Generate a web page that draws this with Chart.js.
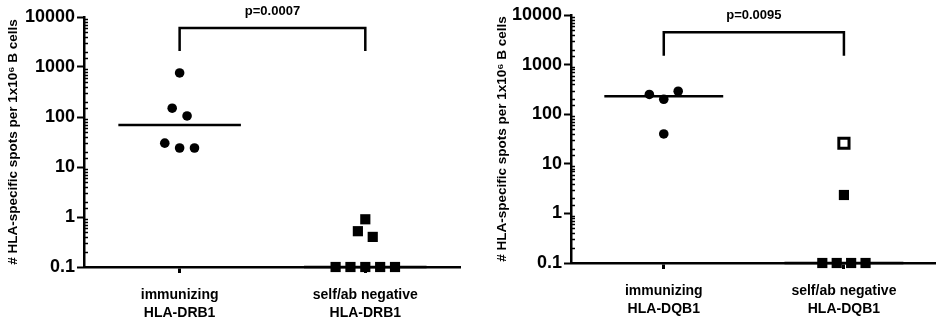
<!DOCTYPE html>
<html>
<head>
<meta charset="utf-8">
<script src="https://cdn.jsdelivr.net/npm/chart.js@4/dist/chart.umd.min.js"></script>
<style>
  body { margin: 0; background: #fff; }
  .panel { position: absolute; top: 0; height: 322px; }
</style>
</head>
<body>
<div class="panel" style="left:0;width:480px"><canvas id="drb1Chart"></canvas></div>
<div class="panel" style="left:480px;width:466px"><canvas id="dqb1Chart"></canvas></div>
<script>
// ---- data ----
const drb1Categories = [['immunizing', 'HLA-DRB1'], ['self/ab negative', 'HLA-DRB1']];
const dqb1Categories = [['immunizing', 'HLA-DQB1'], ['self/ab negative', 'HLA-DQB1']];
const yTickLabels = [0.1, 1, 10, 100, 1000, 10000];
const yTitle = '# HLA-specific spots per 1x10\u2076 B cells';

const drb1Immunizing = [760, 150, 105, 30, 24, 24];
const drb1ImmunizingJitter = [0, -0.04, 0.04, -0.08, 0, 0.08];
const drb1Negative = [0.9, 0.52, 0.4, 0.1, 0.1, 0.1, 0.1, 0.1];
const drb1NegativeJitter = [0, -0.04, 0.04, -0.16, -0.08, 0, 0.08, 0.16];
const drb1Medians = [69, 0.1];
const drb1PValue = 'p=0.0007';
const drb1Bracket = [2100, 6000];

const dqb1Immunizing = [250, 200, 290, 40];
const dqb1ImmunizingJitter = [-0.08, 0, 0.08, 0];
const dqb1Negative = [26, 2.35, 0.1, 0.1, 0.1, 0.1];
const dqb1NegativeJitter = [0, 0, -0.12, -0.04, 0.04, 0.12];
const dqb1NegativeOpen = [true, false, false, false, false, false];
const dqb1Medians = [230, 0.1];
const dqb1PValue = 'p=0.0095';
const dqb1Bracket = [1500, 4500];

const FONT = "'Liberation Sans', Arial, sans-serif";

function column(values, jitter, cat) {
  return values.map((v, i) => ({ x: cat + jitter[i], y: v }));
}

// minor log ticks drawn inward + significance bracket
const extrasPlugin = {
  id: 'extras',
  afterDraw(chart) {
    const ctx = chart.ctx;
    const y = chart.scales.y;
    const x = chart.scales.x;
    const o = chart.options.plugins.extras;
    ctx.save();
    ctx.strokeStyle = '#000';
    ctx.lineWidth = 1.5;
    y.ticks.forEach(t => {
      const lg = Math.log10(t.value);
      if (Math.abs(lg - Math.round(lg)) < 1e-6) return;
      const py = Math.round(y.getPixelForValue(t.value)) + 0.5;
      ctx.beginPath();
      ctx.moveTo(y.right, py);
      ctx.lineTo(y.right + 4, py);
      ctx.stroke();
    });
    // bracket
    const x1 = x.getPixelForValue(1), x2 = x.getPixelForValue(2);
    const yTop = y.getPixelForValue(o.bracket[1]);
    const yBot = y.getPixelForValue(o.bracket[0]);
    ctx.lineWidth = 2.5;
    ctx.beginPath();
    ctx.moveTo(x1, yBot);
    ctx.lineTo(x1, yTop);
    ctx.lineTo(x2, yTop);
    ctx.lineTo(x2, yBot);
    ctx.stroke();
    ctx.fillStyle = '#000';
    ctx.font = 'bold 13px ' + FONT;
    ctx.textAlign = 'center';
    ctx.textBaseline = 'middle';
    ctx.fillText(o.pValue, (x1 + x2) / 2, yTop - 17);
    ctx.restore();
  }
};

function makeChart(id, cfg) {
  const datasets = [];
  cfg.medians.forEach((m, i) => {
    datasets.push({
      type: 'line',
      data: [{ x: i + 1 - 0.33, y: m }, { x: i + 1 + 0.33, y: m }],
      borderColor: '#000',
      borderWidth: 2.5,
      pointRadius: 0,
      clip: false
    });
  });
  datasets.push(
    {
      type: 'scatter',
      data: column(cfg.immunizing, cfg.immunizingJitter, 1),
      pointStyle: 'circle',
      pointRadius: 4.8,
      backgroundColor: '#000',
      borderColor: '#000',
      borderWidth: 0,
      clip: false
    },
    {
      type: 'scatter',
      data: column(cfg.negative, cfg.negativeJitter, 2),
      pointStyle: 'rect',
      pointRadius: 7.2,
      backgroundColor: cfg.negative.map((v, i) => cfg.open && cfg.open[i] ? '#fff' : '#000'),
      borderColor: '#000',
      pointBorderWidth: cfg.negative.map((v, i) => cfg.open && cfg.open[i] ? 3 : 0),
      clip: false
    }
  );

  return new Chart(document.getElementById(id), {
    type: 'scatter',
    data: { datasets },
    plugins: [extrasPlugin],
    options: {
      responsive: true,
      maintainAspectRatio: false,
      animation: false,
      events: [],
      layout: { padding: { top: cfg.top, right: cfg.right, left: 0, bottom: 0 } },
      plugins: {
        legend: { display: false },
        tooltip: { enabled: false },
        extras: { bracket: cfg.bracket, pValue: cfg.pValue }
      },
      scales: {
        x: {
          type: 'linear',
          min: 0.485,
          max: 2.51,
          afterBuildTicks: s => { s.ticks = [{ value: 1 }, { value: 2 }]; },
          afterFit: s => { s.height = cfg.xHeight; },
          border: { color: '#000', width: 2.5 },
          grid: { drawOnChartArea: false, tickLength: 6, tickColor: '#000', tickWidth: 3 },
          ticks: {
            padding: 13,
            color: '#000',
            maxRotation: 0,
            font: { family: FONT, size: 14, weight: 'bold', lineHeight: 1.3 },
            callback: v => cfg.categories[v - 1]
          }
        },
        y: {
          type: 'logarithmic',
          min: 0.1,
          max: 10000,
          afterFit: s => { s.width = cfg.yWidth; },
          border: { color: '#000', width: 2.5 },
          grid: {
            drawOnChartArea: false,
            tickLength: 7,
            tickWidth: 2,
            tickColor: c => {
              const lg = Math.log10(c.tick.value);
              return Math.abs(lg - Math.round(lg)) < 1e-6 ? '#000' : 'rgba(0,0,0,0)';
            }
          },
          ticks: {
            padding: 2,
            color: '#000',
            autoSkip: false,
            font: { family: FONT, size: 18, weight: 'bold' },
            callback: v => yTickLabels.includes(v) ? String(v) : ''
          },
          title: {
            display: true,
            text: yTitle,
            color: '#000',
            padding: { top: cfg.titlePad, bottom: 0 },
            font: { family: FONT, size: 13.5, weight: 'bold', lineHeight: 1.2 }
          }
        }
      }
    }
  });
}

makeChart('drb1Chart', {
  categories: drb1Categories,
  immunizing: drb1Immunizing, immunizingJitter: drb1ImmunizingJitter,
  negative: drb1Negative, negativeJitter: drb1NegativeJitter,
  medians: drb1Medians, pValue: drb1PValue, bracket: drb1Bracket,
  top: 17, right: 20, xHeight: 55, yWidth: 84, titlePad: 5
});

makeChart('dqb1Chart', {
  categories: dqb1Categories,
  immunizing: dqb1Immunizing, immunizingJitter: dqb1ImmunizingJitter,
  negative: dqb1Negative, negativeJitter: dqb1NegativeJitter, open: dqb1NegativeOpen,
  medians: dqb1Medians, pValue: dqb1PValue, bracket: dqb1Bracket,
  top: 15, right: 3, xHeight: 59, yWidth: 91, titlePad: 14
});
</script>
</body>
</html>
